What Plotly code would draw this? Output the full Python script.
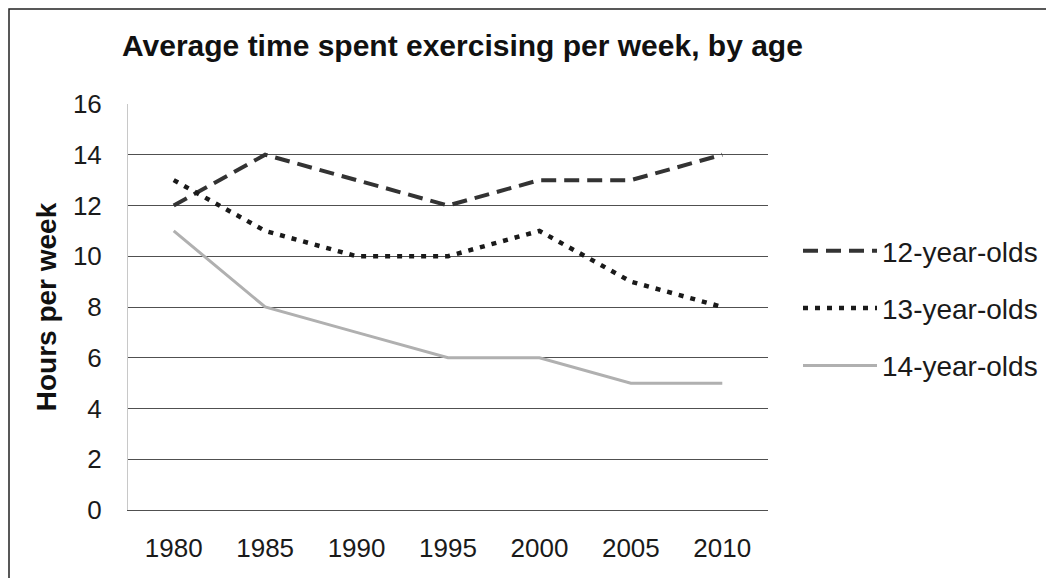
import plotly.graph_objects as go

years = ["1980", "1985", "1990", "1995", "2000", "2005", "2010"]
age12 = [12, 14, 13, 12, 13, 13, 14]
age13 = [13, 11, 10, 10, 11, 9, 8]
age14 = [11, 8, 7, 6, 6, 5, 5]
series_names = ["12-year-olds", "13-year-olds", "14-year-olds"]
y_ticks = [0, 2, 4, 6, 8, 10, 12, 14, 16]

FONT = "Liberation Sans, Arial, sans-serif"

fig = go.Figure()
fig.add_trace(go.Scatter(x=years, y=age12, name=series_names[0], mode="lines",
                         legendgroup="a",
                         line=dict(color="#333333", width=4, dash="15px,8px")))
fig.add_trace(go.Scatter(x=years, y=age13, name=series_names[1], mode="lines",
                         legendgroup="b",
                         line=dict(color="#1a1a1a", width=4.5, dash="5px,7px")))
fig.add_trace(go.Scatter(x=years, y=age14, name=series_names[2], mode="lines",
                         legendgroup="c",
                         line=dict(color="#b0b0b0", width=3)))

# page has an 8px body margin, so figure coords = screen coords - 8
L, R, T, B = 120, 294, 96, 76
W, H = 1054, 578
pw, ph = W - L - R, H - T - B

fig.update_layout(
    width=W, height=H,
    margin=dict(l=L, r=R, t=T, b=B, pad=0),
    paper_bgcolor="white", plot_bgcolor="white",
    font=dict(family=FONT, color="#1a1a1a"),
    title=dict(text="<b>Average time spent exercising per week, by age</b>",
               x=114 / W, xanchor="left", y=1 - 37 / H, yanchor="middle",
               font=dict(size=30, family=FONT, color="#111")),
    xaxis=dict(type="category", range=[-0.5, 6.5], showgrid=False,
               showline=True, linecolor="#505050", linewidth=1, ticks="",
               tickfont=dict(size=26, family=FONT, color="#1a1a1a"),
               ticklabelstandoff=15, zeroline=False),
    yaxis=dict(range=[0, 16], tickvals=y_ticks, showgrid=True,
               gridcolor="#505050", gridwidth=1, zeroline=False,
               showline=True, linecolor="#c8c8c8", linewidth=1,
               ticks="", ticklabelstandoff=20,
               tickfont=dict(size=26, family=FONT, color="#1a1a1a"),
               title=dict(text="<b>Hours per week</b>", standoff=8,
                          font=dict(size=28, family=FONT, color="#111"))),
    showlegend=True,
    legend=dict(x=(790 - L) / pw, xanchor="left", y=1 - (218 - T) / ph,
                yanchor="top",
                font=dict(size=28, family=FONT, color="#1a1a1a"),
                tracegroupgap=18, traceorder="grouped", itemwidth=74,
                bgcolor="rgba(0,0,0,0)"),
    shapes=[dict(type="rect", xref="paper", yref="paper",
                 x0=-(L - 1) / pw, x1=(W + 10 - L) / pw,
                 y0=-(B + 10) / ph, y1=1 + (T - 1) / ph,
                 line=dict(color="#222", width=1.5), fillcolor="rgba(0,0,0,0)",
                 layer="below")],
)

fig.write_html("out.html")
